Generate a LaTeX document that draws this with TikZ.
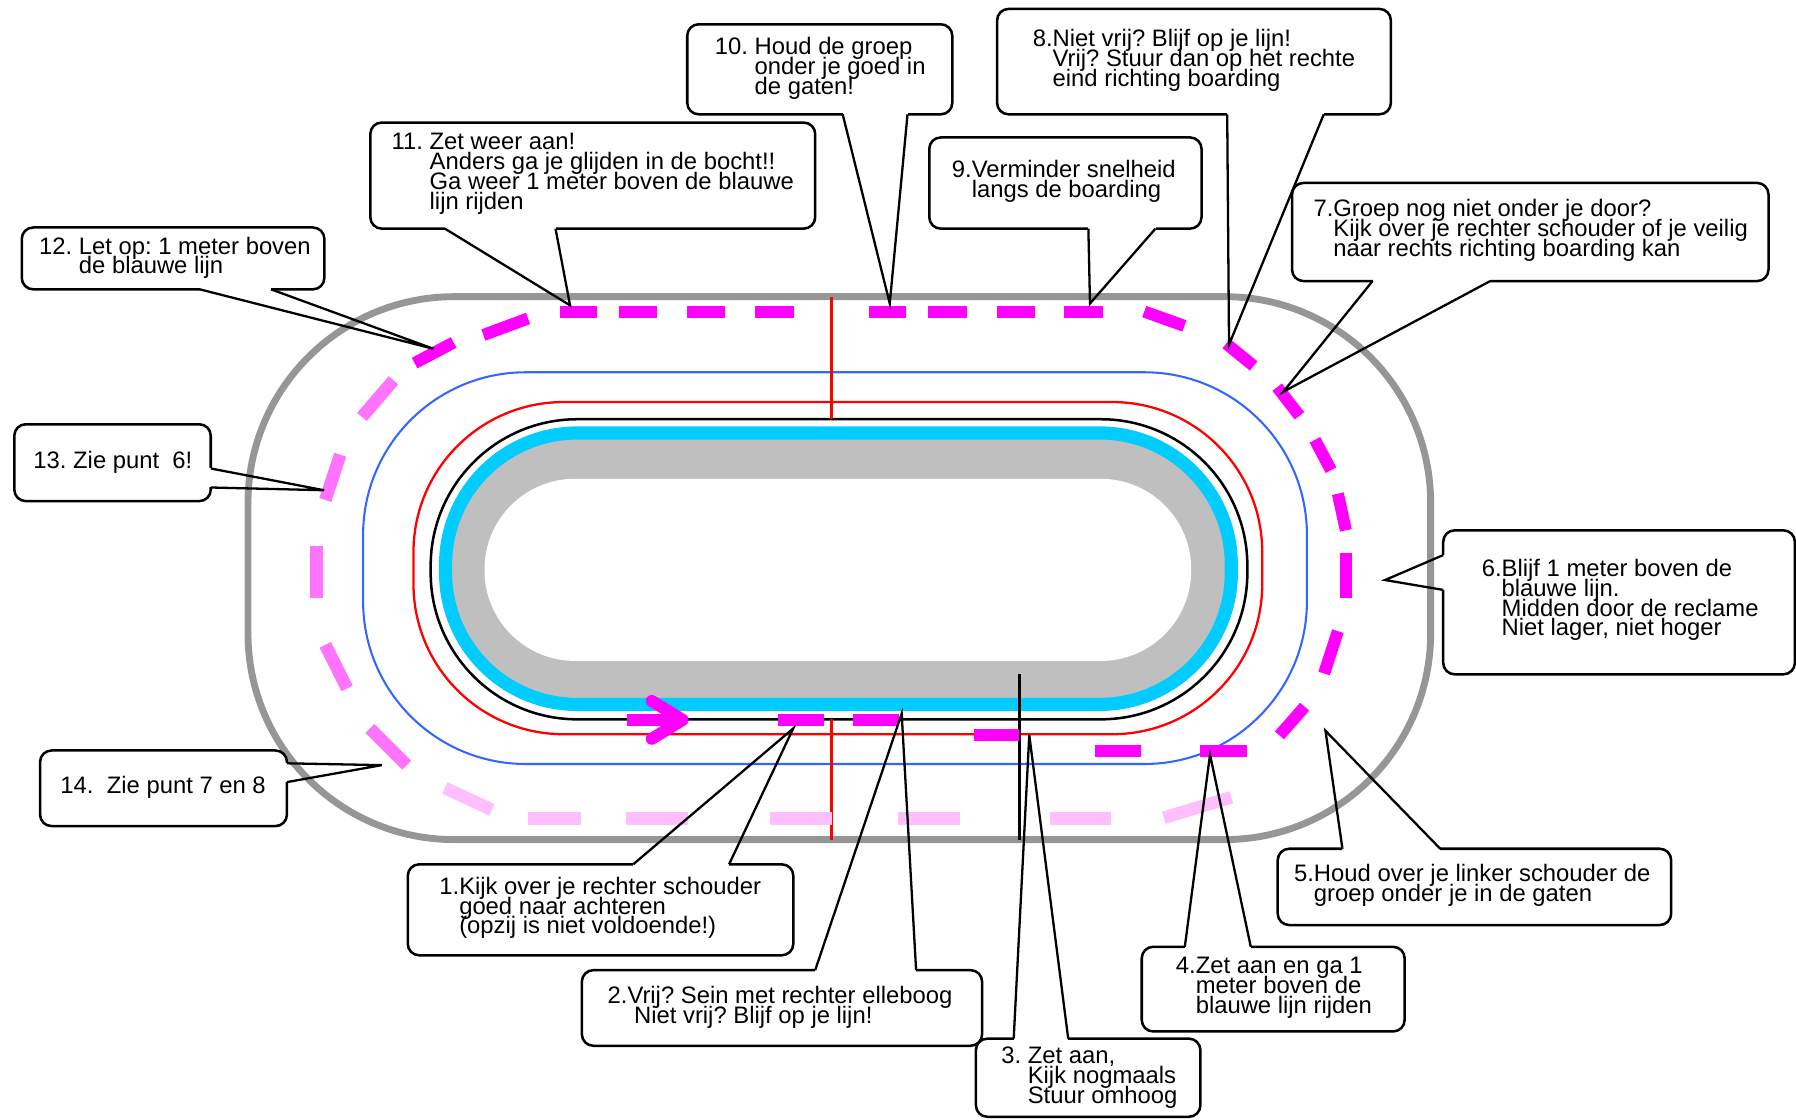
\documentclass[tikz,border=0pt]{standalone}
\usepackage{fontspec}
\setmainfont{Liberation Sans}
\usepackage{tikz}
\usepackage{xcolor}
\definecolor{trackgray}{rgb}{0.59,0.59,0.59}
\definecolor{bandgray}{rgb}{0.75,0.75,0.75}
\definecolor{icecyan}{rgb}{0,0.8,1}
\definecolor{lineblue}{rgb}{0.2,0.4,1}
\definecolor{linered}{rgb}{1,0,0}
\definecolor{racemagenta}{rgb}{1,0,1}
\newcommand{\tipfont}{\fontsize{20.8}{17.3}\selectfont\lineskiplimit=-100pt\frenchspacing}
\tikzstyle{tipbox}=[draw=black,fill=white,line width=2.2pt,rounded corners=10pt,inner sep=0pt,outer sep=0pt,anchor=north west]
\tikzstyle{tiptext}=[inner sep=0pt,align=left,anchor=north west,font=\tipfont]
\tikzstyle{tipgap}=[white,line width=4.6pt]
\tikzstyle{tiptail}=[black,line width=2pt]
\tikzstyle{racing}=[racemagenta,line width=10.5pt]
\tikzstyle{racing pale}=[racemagenta!55,line width=11pt]
\tikzstyle{racing faint}=[racemagenta!25,line width=11pt]
\begin{document}
\begin{tikzpicture}[x=1pt,y=-1pt]
		\useasboundingbox (0,0) rectangle (1568,977);
%track lines
		\draw[trackgray,line width=6pt,rounded corners=180pt] (216.5,259) rectangle (1249,733);
		\draw[lineblue,line width=1.8pt,rounded corners=142pt] (317,325) rectangle (1141,667);
		\draw[linered,line width=2pt,rounded corners=131pt] (361,351) rectangle (1102,641);
		\draw[black,line width=2.2pt,rounded corners=128pt] (376,366) rectangle (1089,628);
		\fill[bandgray,rounded corners=115pt] (389,378) rectangle (1075,615);
		\fill[white,rounded corners=79pt] (423,418) rectangle (1040,577);
		\draw[icecyan,line width=11.5pt,rounded corners=115pt] (389,378) rectangle (1075,615);
%finish and start marks
		\draw[linered,line width=2pt] (726,259) -- (726,366);
		\draw[linered,line width=2pt] (726,628) -- (726,733.5);
		\draw[black,line width=3.2pt] (890,588.6) -- (890,733.5);
% racing line, bright part
		\draw[racing] (489,272) -- (521,272);
		\draw[racing] (540,272) -- (574,272);
		\draw[racing] (600,272) -- (633,272);
		\draw[racing] (659,272) -- (693,272);
		\draw[racing] (759,272) -- (791,272);
		\draw[racing] (810,272) -- (844,272);
		\draw[racing] (870,272) -- (904,272);
		\draw[racing] (929,272) -- (963,272);
		\draw[racing] (422,292.5) -- (461,278);
		\draw[racing] (362,317) -- (396,299);

		\draw[racing] (999,272) -- (1034,284.5);
		\draw[racing] (1070.5,300) -- (1094.5,319.5);
		\draw[racing] (1115,338) -- (1134.5,363);
		\draw[racing] (1148,384) -- (1162,410.5);
		\draw[racing] (1168,431) -- (1175,463);
		\draw[racing] (1175,483) -- (1175,522.5);
		\draw[racing] (1168,551) -- (1156,588);
		\draw[racing] (1139,617) -- (1117,642);

		\draw[racing] (1089,655.5) -- (1048,655.5);
		\draw[racing] (996,655.5) -- (956,655.5);
		\draw[racing] (890,642) -- (850,642);
		\draw[racing] (785,628.5) -- (745,628.5);
		\draw[racing] (719,628.5) -- (679,628.5);
		\draw[racing] (547,628.5) -- (590,628.5);
		\draw[racing,line cap=round,line join=round] (569,612) -- (596,628.5) -- (569,645);
% racing line, pale part
		\draw[racing pale] (316,364) -- (343.5,332);
		\draw[racing pale] (284,436.5) -- (297,397);
		\draw[racing pale] (276.5,477) -- (276.5,522.5);
		\draw[racing pale] (284,563) -- (303,601);
		\draw[racing pale] (323,636) -- (355,668);
		\draw[racing faint] (388.5,688) -- (429.5,707);
		\draw[racing faint] (461,714.5) -- (507.5,714.5);
		\draw[racing faint] (546.5,714.5) -- (600.5,714.5);
		\draw[racing faint] (672,714.5) -- (726.5,714.5);
		\draw[racing faint] (784,714.5) -- (838,714.5);
		\draw[racing faint] (917,714.5) -- (970,714.5);
		\draw[racing faint] (1016,714) -- (1075,696);

%boxes
		\node[tipbox,minimum width=336.6,minimum height=79.4](b1) at (356,754.6){};
		\node[tipbox,minimum width=349.4,minimum height=66](b2) at (508,847){};
		\node[tipbox,minimum width=196,minimum height=68.2](b3) at (852,906.8){};
		\node[tipbox,minimum width=229.5,minimum height=73.9](b4) at (996.8,826.6){};
		\node[tipbox,minimum width=343.5,minimum height=66.6](b5) at (1115.5,741){};
		\node[tipbox,minimum width=307,minimum height=125.7](b6) at (1260,463){};
		\node[tipbox,minimum width=416,minimum height=85.7](b7) at (1128,159.7){};
		\node[tipbox,minimum width=343.8,minimum height=92](b8) at (870.5,7.8){};
		\node[tipbox,minimum width=237.7,minimum height=79.6](b9) at (811.3,120){};
		\node[tipbox,minimum width=231.4,minimum height=78.6](b10) at (600,21.2){};
		\node[tipbox,minimum width=388.4,minimum height=92.6](b11) at (323.3,107){};
		\node[tipbox,minimum width=264.2,minimum height=54](b12) at (19,198.6){};
		\node[tipbox,minimum width=171.5,minimum height=67.1](b13) at (12.5,370.4){};
		\node[tipbox,minimum width=215.5,minimum height=66](b14) at (35,655.2){};

		\node[tiptext](t1) at (383.4,765.5){1.Kijk over je rechter schouder\\\hphantom{1.}goed naar achteren\\\hphantom{1.}(opzij is niet voldoende!)};
		\node[tiptext](t2) at (530.3,860.7){2.Vrij? Sein met rechter elleboog\\\hphantom{2. }Niet vrij? Blijf op je lijn!};
		\node[tiptext](t3) at (874,913.7){3. Zet aan,\\\hphantom{3. }Kijk nogmaals\\\hphantom{3. }Stuur omhoog};
		\node[tiptext](t4) at (1026.4,835.7){4.Zet aan en ga 1\\\hphantom{4.}meter boven de\\\hphantom{4.}blauwe lijn rijden};
		\node[tiptext](t5) at (1129.6,754.6){5.Houd over je linker schouder de\\\hphantom{5.}groep onder je in de gaten};
		\node[tiptext](t6) at (1293.5,488){6.Blijf 1 meter boven de\\\hphantom{6.}blauwe lijn.\\\hphantom{6.}Midden door de reclame\\\hphantom{6.}Niet lager, niet hoger};
		\node[tiptext](t7) at (1146.6,173.7){7.Groep nog niet onder je door?\\\hphantom{7.}Kijk over je rechter schouder of je veilig\\\hphantom{7.}naar rechts richting boarding kan};
		\node[tiptext](t8) at (901.5,25.6){8.Niet vrij? Blijf op je lijn!\\\hphantom{8.}Vrij? Stuur dan op het rechte\\\hphantom{8.}eind richting boarding};
		\node[tiptext](t9) at (830.9,140.1){9.Verminder snelheid\\\hphantom{9.}langs de boarding};
		\node[tiptext](t10) at (624,32.5){10. Houd de groep\\\hphantom{10. }onder je goed in\\\hphantom{10. }de gaten!};
		\node[tiptext](t11) at (341.8,116.1){11. Zet weer aan!\\\hphantom{11. }Anders ga je glijden in de bocht!!\\\hphantom{11. }Ga weer 1 meter boven de blauwe\\\hphantom{11. }lijn rijden};
		\node[tiptext](t12) at (34,206.6){12. Let op: 1 meter boven\\\hphantom{12. }de blauwe lijn};
		\node[tiptext](t13) at (29,393.6){13. Zie punt\ \ 6!};
		\node[tiptext](t14) at (52.6,677.3){14.\ \ Zie punt 7 en 8};

%pointers
		\coordinate (b1l) at ([xshift=196.8pt]b1.north west);
		\coordinate (b1r) at ([xshift=280.5pt]b1.north west);
		\coordinate (p1) at (692.5,636);
		\coordinate (b2l) at ([xshift=203.7pt]b2.north west);
		\coordinate (b2r) at ([xshift=291.8pt]b2.north west);
		\coordinate (p2) at (787.2,623);
		\coordinate (b3l) at ([xshift=33pt]b3.north west);
		\coordinate (b3r) at ([xshift=80.6pt]b3.north west);
		\coordinate (p3) at (898.6,641.7);
		\coordinate (b4l) at ([xshift=37.6pt]b4.north west);
		\coordinate (b4r) at ([xshift=95.2pt]b4.north west);
		\coordinate (p4) at (1056.4,658.8);
		\coordinate (b5l) at ([xshift=56.5pt]b5.north west);
		\coordinate (b5r) at ([xshift=141.9pt]b5.north west);
		\coordinate (p5) at (1157.2,638);
		\coordinate (b6l) at ([yshift=-21.6pt]b6.north west);
		\coordinate (b6r) at ([yshift=-52pt]b6.north west);
		\coordinate (p6) at (1209.2,506.4);
		\coordinate (b7l) at ([xshift=70.3pt]b7.south west);
		\coordinate (b7r) at ([xshift=173pt]b7.south west);
		\coordinate (p7) at (1120.4,342);
		\coordinate (b8l) at ([xshift=200.9pt]b8.south west);
		\coordinate (b8r) at ([xshift=285.2pt]b8.south west);
		\coordinate (p8) at (1073,300.9);
		\coordinate (b9l) at ([xshift=138.9pt]b9.south west);
		\coordinate (b9r) at ([xshift=197.5pt]b9.south west);
		\coordinate (p9) at (951.6,265);
		\coordinate (b10l) at ([xshift=135.7pt]b10.south west);
		\coordinate (b10r) at ([xshift=192.3pt]b10.south west);
		\coordinate (p10) at (776.8,265);
		\coordinate (b11l) at ([xshift=65.1pt]b11.south west);
		\coordinate (b11r) at ([xshift=161.7pt]b11.south west);
		\coordinate (p11) at (497.7,266.6);
		\coordinate (b12l) at ([xshift=155.4pt]b12.south west);
		\coordinate (b12r) at ([xshift=217.6pt]b12.south west);
		\coordinate (p12) at (378.4,304.5);
		\coordinate (b13l) at ([yshift=-38.6pt]b13.north east);
		\coordinate (b13r) at ([yshift=-55.2pt]b13.north east);
		\coordinate (p13) at (283,428);
		\coordinate (b14l) at ([yshift=-11.2pt]b14.north east);
		\coordinate (b14r) at ([yshift=-27.6pt]b14.north east);
		\coordinate (p14) at (333.3,668);

		\draw[tipgap] (b1l) -- (b1r);
		\draw[tipgap] (b2l) -- (b2r);
		\draw[tipgap] (b3l) -- (b3r);
		\draw[tipgap] (b4l) -- (b4r);
		\draw[tipgap] (b5l) -- (b5r);
		\draw[tipgap] (b6l) -- (b6r);
		\draw[tipgap] (b7l) -- (b7r);
		\draw[tipgap] (b8l) -- (b8r);
		\draw[tipgap] (b9l) -- (b9r);
		\draw[tipgap] (b10l) -- (b10r);
		\draw[tipgap] (b11l) -- (b11r);
		\draw[tipgap] (b12l) -- (b12r);
		\draw[tipgap] (b13l) -- (b13r);
		\draw[tipgap] (b14l) -- (b14r);

		\draw[tiptail] (b1l) -- (p1) -- (b1r);
		\draw[tiptail] (b2l) -- (p2) -- (b2r);
		\draw[tiptail] (b3l) -- (p3) -- (b3r);
		\draw[tiptail] (b4l) -- (p4) -- (b4r);
		\draw[tiptail] (b5l) -- (p5) -- (b5r);
		\draw[tiptail] (b6l) -- (p6) -- (b6r);
		\draw[tiptail] (b7l) -- (p7) -- (b7r);
		\draw[tiptail] (b8l) -- (p8) -- (b8r);
		\draw[tiptail] (b9l) -- (p9) -- (b9r);
		\draw[tiptail] (b10l) -- (p10) -- (b10r);
		\draw[tiptail] (b11l) -- (p11) -- (b11r);
		\draw[tiptail] (b12l) -- (p12) -- (b12r);
		\draw[tiptail] (b13l) -- (p13) -- (b13r);
		\draw[tiptail] (b14l) -- (p14) -- (b14r);
\end{tikzpicture}
\end{document}
